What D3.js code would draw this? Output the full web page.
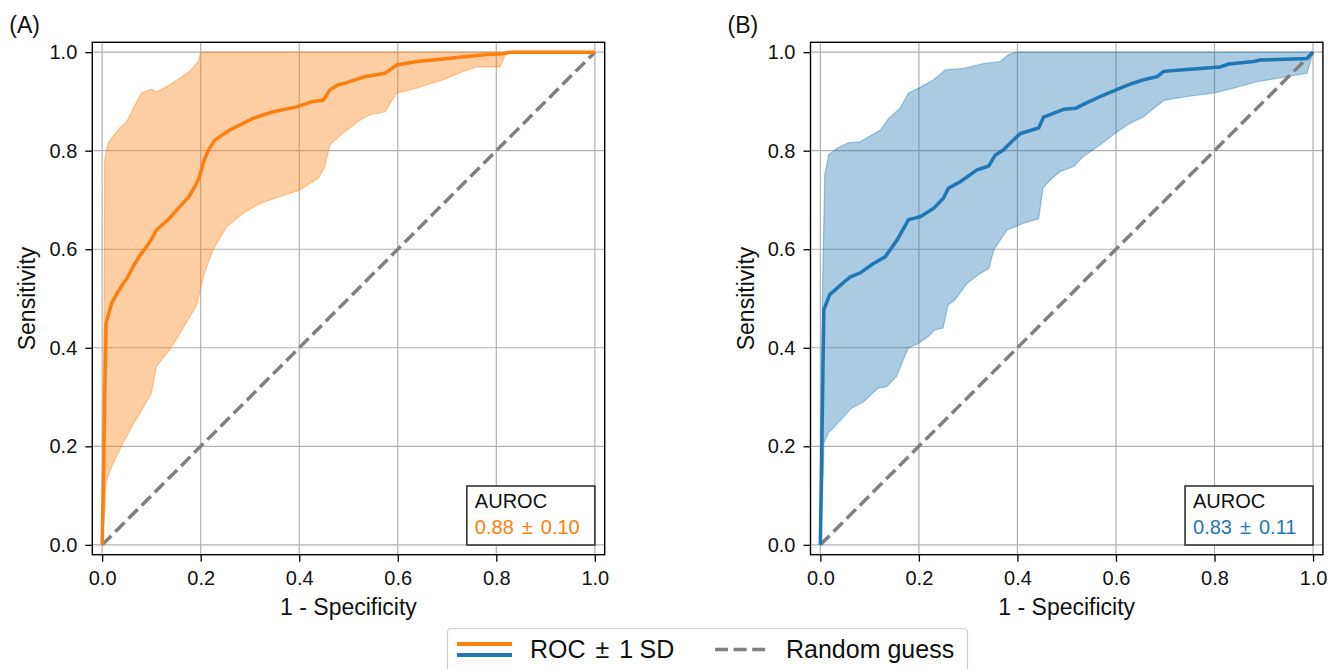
<!DOCTYPE html>
<html>
<head>
<meta charset="utf-8">
<script src="https://cdn.jsdelivr.net/npm/d3@7"></script>
<style>
  body { margin: 0; background: #fff; }
  svg { font-family: "Liberation Sans", Arial, sans-serif; }
</style>
</head>
<body>
<svg id="chart" width="1338" height="669"></svg>
<script>
// tick values shared by both axes
const ticks = [0, 0.2, 0.4, 0.6, 0.8, 1.0];

// panel A: mean ROC and +/- 1 SD band as [fpr, tpr]
const meanA = [[0,0],[0.003,0.15],[0.006,0.35],[0.008,0.45],[0.019,0.49],[0.03,0.51],[0.043,0.531],[0.05,0.54],[0.063,0.565],[0.075,0.585],[0.09,0.605],[0.1,0.62],[0.11,0.639],[0.134,0.66],[0.158,0.687],[0.175,0.705],[0.188,0.727],[0.197,0.745],[0.205,0.775],[0.215,0.8],[0.229,0.822],[0.259,0.842],[0.307,0.866],[0.347,0.879],[0.395,0.889],[0.428,0.9],[0.449,0.903],[0.462,0.923],[0.479,0.934],[0.496,0.938],[0.533,0.95],[0.574,0.957],[0.598,0.974],[0.638,0.981],[0.692,0.986],[0.74,0.991],[0.78,0.995],[0.814,0.997],[0.83,1.0],[1.0,1.0]];
const upperA = [[0,0],[0.004,0.5],[0.005,0.78],[0.012,0.815],[0.022,0.829],[0.036,0.846],[0.05,0.859],[0.063,0.886],[0.08,0.917],[0.1,0.925],[0.11,0.919],[0.131,0.93],[0.154,0.945],[0.178,0.961],[0.195,0.981],[0.2,1.0],[1.0,1.0]];
const lowerA = [[0,0],[0.006,0.08],[0.0075,0.125],[0.016,0.152],[0.039,0.2],[0.06,0.24],[0.077,0.267],[0.1,0.308],[0.11,0.362],[0.137,0.396],[0.158,0.429],[0.192,0.487],[0.205,0.544],[0.225,0.599],[0.253,0.646],[0.286,0.673],[0.32,0.693],[0.361,0.707],[0.401,0.72],[0.422,0.734],[0.439,0.744],[0.452,0.768],[0.462,0.812],[0.489,0.836],[0.523,0.862],[0.544,0.873],[0.574,0.879],[0.598,0.917],[0.638,0.927],[0.692,0.944],[0.733,0.961],[0.76,0.97],[0.808,0.97],[0.818,0.995],[0.83,1.0],[1.0,1.0]];

// panel B
const meanB = [[0,0],[0.003,0.2],[0.007,0.477],[0.019,0.508],[0.041,0.527],[0.05,0.535],[0.061,0.544],[0.081,0.552],[0.108,0.571],[0.132,0.585],[0.156,0.619],[0.179,0.66],[0.203,0.666],[0.23,0.683],[0.25,0.704],[0.26,0.724],[0.284,0.737],[0.318,0.761],[0.342,0.769],[0.355,0.791],[0.372,0.802],[0.386,0.816],[0.406,0.835],[0.443,0.846],[0.453,0.868],[0.494,0.884],[0.518,0.886],[0.538,0.896],[0.575,0.913],[0.599,0.923],[0.629,0.935],[0.656,0.944],[0.683,0.95],[0.697,0.961],[0.744,0.965],[0.812,0.97],[0.829,0.976],[0.879,0.981],[0.893,0.984],[0.988,0.987],[1.0,1.0]];
const upperB = [[0,0],[0.004,0.5],[0.009,0.751],[0.017,0.792],[0.034,0.805],[0.057,0.816],[0.081,0.818],[0.101,0.83],[0.122,0.842],[0.139,0.866],[0.162,0.886],[0.179,0.917],[0.2,0.927],[0.23,0.944],[0.254,0.964],[0.291,0.967],[0.332,0.977],[0.365,0.981],[0.382,0.995],[0.399,1.0],[1.0,1.0]];
const lowerB = [[0,0],[0.006,0.15],[0.007,0.206],[0.016,0.227],[0.029,0.24],[0.063,0.277],[0.087,0.29],[0.117,0.318],[0.134,0.321],[0.154,0.341],[0.178,0.399],[0.198,0.408],[0.219,0.423],[0.232,0.436],[0.249,0.44],[0.259,0.487],[0.273,0.497],[0.298,0.531],[0.325,0.551],[0.342,0.561],[0.352,0.599],[0.379,0.639],[0.413,0.653],[0.443,0.662],[0.452,0.725],[0.467,0.741],[0.487,0.758],[0.514,0.768],[0.534,0.788],[0.568,0.812],[0.599,0.836],[0.629,0.856],[0.656,0.869],[0.677,0.886],[0.697,0.902],[0.744,0.91],[0.798,0.917],[0.839,0.927],[0.886,0.94],[0.934,0.948],[0.988,0.957],[1.0,1.0]];

const chanceLine = [[0,0],[1,1]];
const aurocA = ["0.88", "0.10"];
const aurocB = ["0.83", "0.11"];

const svg = d3.select("#chart");

// text with a wider gap round the ± sign (like matplotlib mathtext)
function pmText(sel, a, b, tail, gap) {
    gap = gap || "0.45em";
    sel.append("tspan").text(a);
    sel.append("tspan").attr("dx", gap).text("\u00b1");
    sel.append("tspan").attr("dx", gap).text(b);
    if (tail) sel.append("tspan").attr("dx", "0.25em").text(tail);
}

function drawPanel(opts) {
    const x = d3.scaleLinear().domain([-0.02, 1.02]).range([opts.left, opts.left + 512.4]);
    const y = d3.scaleLinear().domain([-0.02, 1.02]).range([554.7, 42.3]);
    const g = svg.append("g");

    // grid
    g.selectAll(".gx").data(ticks).enter().append("line")
        .attr("x1", d => x(d)).attr("x2", d => x(d))
        .attr("y1", y.range()[0]).attr("y2", y.range()[1])
        .attr("stroke", "#b0b0b0").attr("stroke-width", 1.2);
    g.selectAll(".gy").data(ticks).enter().append("line")
        .attr("y1", d => y(d)).attr("y2", d => y(d))
        .attr("x1", x.range()[0]).attr("x2", x.range()[1])
        .attr("stroke", "#b0b0b0").attr("stroke-width", 1.2);

    // SD band
    const band = opts.upper.concat(opts.lower.slice().reverse());
    g.append("path")
        .attr("d", d3.line().x(d => x(d[0])).y(d => y(d[1]))(band) + "Z")
        .attr("fill", opts.color).attr("fill-opacity", 0.38)
        .attr("stroke", opts.color).attr("stroke-opacity", 0.4).attr("stroke-width", 1.2);

    const line = d3.line().x(d => x(d[0])).y(d => y(d[1]));

    g.append("path")
        .attr("d", line(chanceLine))
        .attr("fill", "none").attr("stroke", "#808080")
        .attr("stroke-width", 3.5).attr("stroke-dasharray", "13,5.6");

    g.append("path")
        .attr("d", line(opts.mean))
        .attr("fill", "none").attr("stroke", opts.color)
        .attr("stroke-width", 3.5).attr("stroke-linejoin", "round");

    // frame
    g.append("rect")
        .attr("x", x.range()[0]).attr("y", y.range()[1])
        .attr("width", x.range()[1] - x.range()[0])
        .attr("height", y.range()[0] - y.range()[1])
        .attr("fill", "none").attr("stroke", "#000").attr("stroke-width", 1.4);

    const xAxis = g.append("g")
        .attr("transform", "translate(0," + y.range()[0] + ")")
        .call(d3.axisBottom(x).tickValues(ticks).tickFormat(d3.format(".1f")).tickSize(7).tickPadding(9));
    const yAxis = g.append("g")
        .attr("transform", "translate(" + x.range()[0] + ",0)")
        .call(d3.axisLeft(y).tickValues(ticks).tickFormat(d3.format(".1f")).tickSize(7).tickPadding(8));
    [xAxis, yAxis].forEach(a => {
        a.select(".domain").remove();
        a.selectAll("line").attr("stroke", "#000").attr("stroke-width", 1.3);
        a.selectAll("text").attr("font-size", 20).attr("fill", "#111")
            .attr("font-family", "'Liberation Sans', Arial, sans-serif");
    });

    g.append("text")
        .attr("x", (x.range()[0] + x.range()[1]) / 2).attr("y", 615)
        .attr("text-anchor", "middle").attr("font-size", 23).attr("fill", "#111")
        .text("1 - Specificity");
    g.append("text")
        .attr("transform", "translate(" + (opts.left - 57) + "," + ((y.range()[0] + y.range()[1]) / 2) + ") rotate(-90)")
        .attr("text-anchor", "middle").attr("font-size", 23).attr("fill", "#111")
        .text("Sensitivity");
    g.append("text")
        .attr("x", opts.left - 83).attr("y", 33)
        .attr("font-size", 23).attr("fill", "#111")
        .text(opts.tag);

    // AUROC box, right edge on x = 1
    const bx = x(1) - 128, by = 486;
    g.append("rect")
        .attr("x", bx).attr("y", by).attr("width", 128).attr("height", 59)
        .attr("fill", "#fff").attr("stroke", "#333").attr("stroke-width", 1.6);
    g.append("text").attr("x", bx + 8).attr("y", by + 21.5)
        .attr("font-size", 20).attr("fill", "#111").text("AUROC");
    g.append("text").attr("x", bx + 8).attr("y", by + 47.5)
        .attr("font-size", 20).attr("fill", opts.color)
        .call(pmText, opts.auroc[0], opts.auroc[1], null, "0.4em");
}

drawPanel({ left: 92.3, mean: meanA, upper: upperA, lower: lowerA, color: "#ff7f0e", tag: "(A)", auroc: aurocA });
drawPanel({ left: 810.5, mean: meanB, upper: upperB, lower: lowerB, color: "#1f77b4", tag: "(B)", auroc: aurocB });

// legend
const lg = svg.append("g");
lg.append("rect")
    .attr("x", 447.5).attr("y", 628.5).attr("width", 520).attr("height", 60).attr("rx", 4)
    .attr("fill", "#fff").attr("stroke", "#cccccc").attr("stroke-width", 1.2);
lg.append("line").attr("x1", 457).attr("x2", 512).attr("y1", 644).attr("y2", 644)
    .attr("stroke", "#ff7f0e").attr("stroke-width", 4.2);
lg.append("line").attr("x1", 457).attr("x2", 512).attr("y1", 655).attr("y2", 655)
    .attr("stroke", "#1f77b4").attr("stroke-width", 4.2);
lg.append("text").attr("x", 530).attr("y", 658).attr("font-size", 25).attr("fill", "#111")
    .call(pmText, "ROC", "1", "SD", "0.4em");
lg.append("line").attr("x1", 715).attr("x2", 770).attr("y1", 649.5).attr("y2", 649.5)
    .attr("stroke", "#808080").attr("stroke-width", 3.5).attr("stroke-dasharray", "13,5.6");
lg.append("text").attr("x", 786).attr("y", 658).attr("font-size", 25).attr("fill", "#111")
    .text("Random guess");
</script>
</body>
</html>
